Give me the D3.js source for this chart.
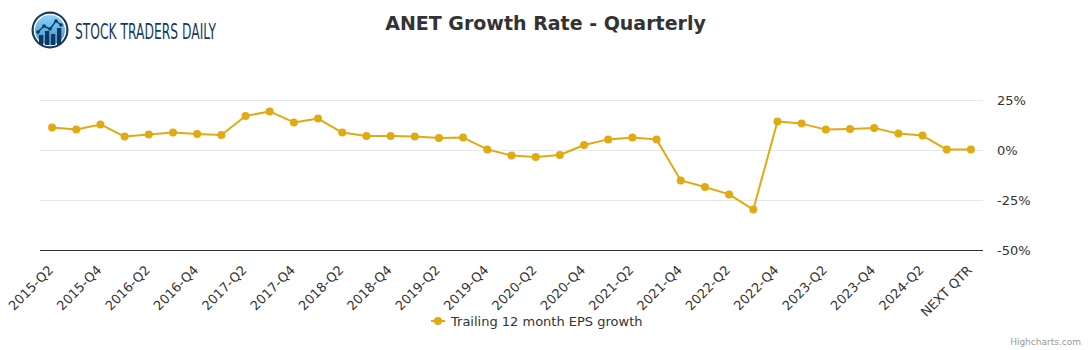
<!DOCTYPE html>
<html>
<head>
<meta charset="utf-8">
<script src="https://cdn.jsdelivr.net/npm/d3@7"></script>
<style>
  html, body { margin: 0; padding: 0; background: #fff; }
  #chart { width: 1091px; height: 350px; }
  text { font-family: "DejaVu Sans", sans-serif; }
</style>
</head>
<body>
<div id="chart"></div>
<script>
// quarters shown on the x axis (every category), labels drawn every 2nd one
const QUARTERS = [
  '2015-Q2','2015-Q3','2015-Q4',
  '2016-Q1','2016-Q2','2016-Q3','2016-Q4',
  '2017-Q1','2017-Q2','2017-Q3','2017-Q4',
  '2018-Q1','2018-Q2','2018-Q3','2018-Q4',
  '2019-Q1','2019-Q2','2019-Q3','2019-Q4',
  '2020-Q1','2020-Q2','2020-Q3','2020-Q4',
  '2021-Q1','2021-Q2','2021-Q3','2021-Q4',
  '2022-Q1','2022-Q2','2022-Q3','2022-Q4',
  '2023-Q1','2023-Q2','2023-Q3','2023-Q4',
  '2024-Q1','2024-Q2','2024-Q3','NEXT QTR'
];

// trailing 12 month EPS growth, in %
const EPS_GROWTH = [
  11.3, 10.2, 12.8,
  6.7, 7.8, 8.7, 8.0,
  7.5, 17.0, 19.3, 13.8,
  15.7, 8.7, 7.0, 7.0,
  6.7, 6.0, 6.2, 0.3,
  -2.8, -3.5, -2.5, 2.5,
  5.3, 6.3, 5.3, -15.2,
  -18.5, -22.2, -29.8, 14.2,
  13.2, 10.2, 10.5, 11.0,
  8.2, 7.2, 0.2, 0.2
];

const Y_TICKS = [-50, -25, 0, 25];
const SERIES_NAME = 'Trailing 12 month EPS growth';
const TITLE = 'ANET Growth Rate - Quarterly';

const W = 1091, H = 350;
const plot = { left: 40, right: 983, top: 75, bottom: 250 };
const LINE_COLOR = '#e1aa12';

const svg = d3.select('#chart').append('svg')
  .attr('width', W).attr('height', H)
  .attr('viewBox', `0 0 ${W} ${H}`);

// logo
const defs = svg.append('defs');
const grad = defs.append('linearGradient')
  .attr('id', 'logoGrad').attr('x1', 0).attr('y1', 0).attr('x2', 0).attr('y2', 1);
grad.append('stop').attr('offset', '0%').attr('stop-color', '#8fd3f7');
grad.append('stop').attr('offset', '100%').attr('stop-color', '#2f93d6');

const logo = svg.append('g').attr('transform', 'translate(50,30)');
logo.append('circle').attr('r', 18.5).attr('fill', '#173a5c');
logo.append('circle').attr('r', 16.5).attr('fill', '#fff');
logo.append('circle').attr('r', 15).attr('fill', 'url(#logoGrad)');
const logoBars = [[-11, 8], [-5, 12], [1, 9], [7, 15]];
logoBars.forEach(([bx, bh]) => {
  logo.append('rect').attr('x', bx).attr('y', 15 - bh - 2).attr('width', 4.2).attr('height', bh + 2)
    .attr('fill', '#14365a');
});
const logoPts = [[-12, 2], [-6, -4], [0, -1], [6, -9], [11, -5]];
logo.append('path')
  .attr('d', d3.line()(logoPts))
  .attr('fill', 'none').attr('stroke', '#14365a').attr('stroke-width', 1.4);
logo.selectAll('.lp').data(logoPts).join('circle')
  .attr('cx', d => d[0]).attr('cy', d => d[1]).attr('r', 1.8).attr('fill', '#14365a');
logo.append('circle').attr('r', 17.2).attr('fill', 'none').attr('stroke', '#173a5c').attr('stroke-width', 1.2);

svg.append('text')
  .attr('x', 75).attr('y', 39)
  .attr('font-family', '"Liberation Sans Narrow", "DejaVu Sans Condensed", sans-serif')
  .attr('font-size', 22)
  .attr('fill', '#173a5c')
  .attr('textLength', 141)
  .attr('lengthAdjust', 'spacingAndGlyphs')
  .text('STOCK TRADERS DAILY');

// title
svg.append('text')
  .attr('x', W / 2).attr('y', 30)
  .attr('text-anchor', 'middle')
  .attr('font-size', 19)
  .attr('font-weight', 'bold')
  .attr('fill', '#333333')
  .text(TITLE);

// scales
const x = d3.scaleBand()
  .domain(QUARTERS)
  .range([plot.left, plot.right])
  .paddingInner(0).paddingOuter(0);
const cx = d => x(d) + x.bandwidth() / 2;

const y = d3.scaleLinear()
  .domain([-50, 25])
  .range([plot.bottom, plot.bottom - 150]);

// grid
svg.append('g')
  .selectAll('line')
  .data(Y_TICKS.filter(t => t !== -50))
  .join('line')
  .attr('x1', plot.left).attr('x2', plot.right)
  .attr('y1', d => Math.round(y(d)) + 0.5).attr('y2', d => Math.round(y(d)) + 0.5)
  .attr('stroke', '#e6e6e6').attr('stroke-width', 1);

// y axis on the right, labels only
const yAxis = svg.append('g')
  .attr('transform', `translate(${plot.right + 14},0)`)
  .call(d3.axisRight(y).tickValues(Y_TICKS).tickSize(0).tickFormat(d => d + '%'));
yAxis.select('.domain').remove();
yAxis.selectAll('text')
  .attr('x', 0)
  .attr('dy', '0.35em')
  .attr('font-size', 13)
  .attr('font-family', '"DejaVu Sans", sans-serif')
  .attr('fill', '#333333');

// x axis line
svg.append('line')
  .attr('x1', plot.left).attr('x2', plot.right)
  .attr('y1', plot.bottom + 0.5).attr('y2', plot.bottom + 0.5)
  .attr('stroke', '#333333').attr('stroke-width', 1);

// x labels, every 2nd category, rotated -45
const xLabels = QUARTERS.filter((q, i) => i % 2 === 0);
svg.append('g')
  .selectAll('text')
  .data(xLabels)
  .join('text')
  .attr('transform', d => `translate(${cx(d) + 2},${plot.bottom + 21}) rotate(-45)`)
  .attr('text-anchor', 'end')
  .attr('font-size', 13)
  .attr('fill', '#333333')
  .text(d => d);

// series
const points = QUARTERS.map((q, i) => ({ q, v: EPS_GROWTH[i] }));
svg.append('path')
  .datum(points)
  .attr('d', d3.line().x(d => cx(d.q)).y(d => y(d.v)))
  .attr('fill', 'none')
  .attr('stroke', LINE_COLOR)
  .attr('stroke-width', 2)
  .attr('stroke-linejoin', 'round');

svg.append('g')
  .selectAll('circle')
  .data(points)
  .join('circle')
  .attr('cx', d => cx(d.q))
  .attr('cy', d => y(d.v))
  .attr('r', 4)
  .attr('fill', LINE_COLOR);

// legend
const legend = svg.append('g').attr('transform', 'translate(431,321)');
legend.append('line')
  .attr('x1', 0).attr('x2', 14).attr('y1', 0).attr('y2', 0)
  .attr('stroke', LINE_COLOR).attr('stroke-width', 2);
legend.append('circle').attr('cx', 7).attr('cy', 0).attr('r', 4).attr('fill', LINE_COLOR);
legend.append('text')
  .attr('x', 20).attr('y', 5)
  .attr('font-size', 13)
  .attr('fill', '#333333')
  .text(SERIES_NAME);

// credits
svg.append('text')
  .attr('x', 1081).attr('y', 345)
  .attr('text-anchor', 'end')
  .attr('font-size', 9)
  .attr('fill', '#999999')
  .text('Highcharts.com');
</script>
</body>
</html>
